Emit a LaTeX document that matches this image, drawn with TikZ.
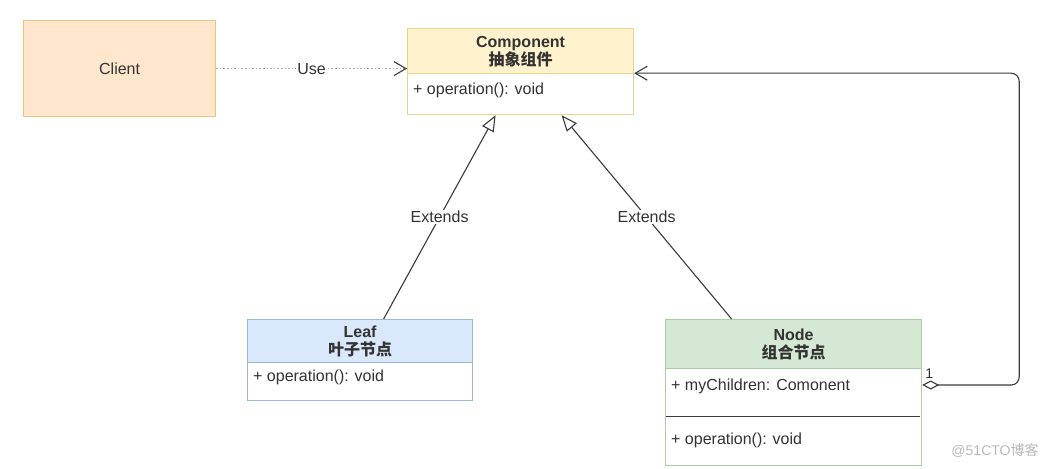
\documentclass[tikz,border=0pt]{standalone}
\usepackage{fontspec}
\setmainfont{Liberation Sans}
\newfontfamily\cjk{Noto Sans CJK SC}
\usetikzlibrary{arrows.meta,positioning,calc}
\definecolor{ink}{HTML}{3A3A3A}
\definecolor{txt}{HTML}{333333}
\definecolor{clientfill}{HTML}{FFE6CC}
\definecolor{clientline}{HTML}{F0C27A}
\definecolor{compfill}{HTML}{FFF2CC}
\definecolor{compline}{HTML}{E8D48F}
\definecolor{leaffill}{HTML}{DAE8FC}
\definecolor{leafline}{HTML}{9DB5DB}
\definecolor{nodefill}{HTML}{D5E8D4}
\definecolor{nodeline}{HTML}{A9CFA0}

\begin{document}
\begin{tikzpicture}[
    x=1pt, y=-1pt,
    font=\fontsize{16}{18}\selectfont, text=txt,
    box/.style={line width=1.2pt, inner sep=0pt, anchor=north west, align=center},
    head/.style={box, text height=30pt},
    member/.style={anchor=west, inner sep=0pt},
    link/.style={ink, line width=1.1pt},
    uses/.style={gray!70, line width=1.4pt, dash pattern=on 1.6pt off 2pt},
    lbl/.style={fill=white, inner sep=1pt, text=txt},
    extends/.style={link, -{Triangle[open, length=16pt, width=13pt, fill=white]}},
]
\useasboundingbox (0,0) rectangle (1048,468);

% Client
\node[box, draw=clientline, fill=clientfill, minimum width=192, minimum height=96]
    (client) at (23,20) {Client};

% Component (abstract)
\node[head, draw=compline, fill=compfill, minimum width=226, minimum height=45]
    (comphead) at (407,28) {\textbf{Component}\\{\cjk\bfseries 抽象组件}};
\node[box, draw=compline, fill=white, minimum width=226, minimum height=41]
    (compbody) at (407,73) {};
\node[member] (compop) at (413,90) {+ operation(): void};

% Leaf
\node[head, draw=leafline, fill=leaffill, minimum width=225, minimum height=43]
    (leafhead) at (247,319) {\textbf{Leaf}\\{\cjk\bfseries 叶子节点}};
\node[box, draw=leafline, fill=white, minimum width=225, minimum height=38]
    (leafbody) at (247,362) {};
\node[member] (leafop) at (253,377) {+ operation(): void};

% Node (composite)
\node[head, draw=nodeline, fill=nodefill, minimum width=256, minimum height=49]
    (nodehead) at (665,319) {\textbf{Node}\\{\cjk\bfseries 组合节点}};
\node[box, draw=nodeline, fill=white, minimum width=256, minimum height=97]
    (nodebody) at (665,368) {};
\draw[link, line width=1pt] (665.6,416) -- (920.4,416);
\node[member] (nodeattr) at (671,386) {+ myChildren: Comonent};
\node[member] (nodeop) at (671,440) {+ operation(): void};

% Use
\draw[uses] (client.east) -- node[lbl] {Use} (client.east -| comphead.west);
\draw[link, {Straight Barb[length=12pt, width=14pt]}-] (client.east -| comphead.west) -- ++(-0.1,0);

% Extends
\draw[extends] ([xshift=23.5pt]leafhead.north) -- node[lbl] {Extends}
    ([xshift=-25pt]compbody.south);
\draw[extends] ([xshift=-62pt]nodehead.north) -- node[lbl] {Extends}
    ([xshift=41pt]compbody.south);

% Aggregation
\coordinate (aggout) at (nodebody.east |- 0,385);
\draw[link, rounded corners=8pt,
    {Straight Barb[length=12pt, width=14pt]}-{Diamond[open, length=17pt, width=9pt, fill=white]}]
    ([yshift=1pt]comphead.south east) -- ++(385,0) |- (aggout);
\node[anchor=south west, inner sep=1pt, font=\fontsize{14}{16}\selectfont]
    (mult) at ([xshift=2pt, yshift=5pt]aggout) {1};

% watermark
\node[text=gray!55, font=\fontsize{14}{16}\selectfont, inner sep=0pt]
    (mark) at (995,451) {@51CTO{\cjk 博客}};

\end{tikzpicture}
\end{document}
